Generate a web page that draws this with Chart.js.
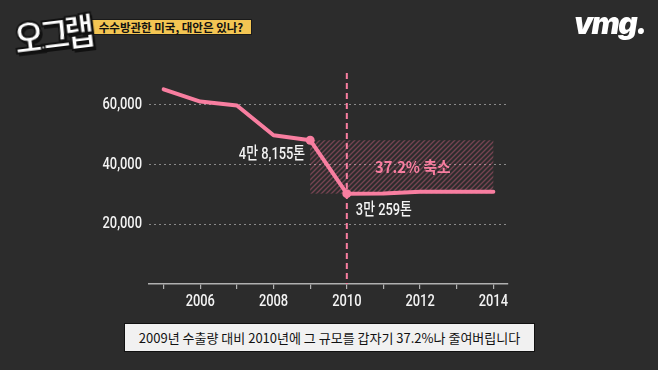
<!DOCTYPE html>
<html><head><meta charset="utf-8">
<script src="https://cdn.jsdelivr.net/npm/chart.js@4.4.1/dist/chart.umd.min.js"></script>
<style>
html,body{margin:0;padding:0;background:#2c2c2c;width:658px;height:370px;overflow:hidden;}
#wrap{position:relative;width:658px;height:370px;}
canvas{position:absolute;left:0;top:0;}
#logo{position:absolute;left:14px;top:11px;font-family:"Noto Sans CJK KR";font-weight:900;font-size:37px;color:#fff;-webkit-text-stroke:2px #111;letter-spacing:-6px;transform:rotate(-7deg) scaleX(0.9);transform-origin:left center;text-shadow:2px 3px 0 #111;z-index:3;}
#banner{position:absolute;left:90px;top:19px;width:160px;height:14px;background:#f3c553;border:1px solid #1a1a1a;font-family:"Noto Sans CJK KR";font-weight:700;font-size:11.5px;line-height:14px;color:#111;text-align:center;z-index:2;white-space:nowrap;}
#vmg{position:absolute;left:574px;top:5px;font-family:Inter,Roboto,sans-serif;font-weight:900;font-style:italic;font-size:30px;color:#fff;letter-spacing:-1.5px;}
#cap{position:absolute;left:124px;top:323px;width:409px;height:27px;background:#f1f1f1;border:1.5px solid #111;font-family:"Noto Sans CJK KR";font-size:13px;line-height:27px;color:#111;text-align:center;}
</style></head>
<body><div id="wrap">
<canvas id="c" width="658" height="370"></canvas>
<div id="logo">오그랩</div>
<div id="banner">수수방관한 미국, 대안은 있나?</div>
<div id="vmg">vmg.</div>
<div id="cap">2009년 수출량 대비 2010년에 그 규모를 갑자기 37.2%나 줄여버립니다</div>
</div>
<script>
const years = [2005,2006,2007,2008,2009,2010,2011,2012,2013,2014];
const exports_ = [65200,61100,59800,49800,48155,30259,30300,30900,30900,30900];
const yTicks = [20000,40000,60000];
const labelBefore = "4만 8,155톤";
const labelAfter = "3만 259톤";
const dropLabel = "37.2% 축소";
const markYearFrom = 2009, markYearTo = 2014, markYearLine = 2010;

const PINK = '#f87ea0';
const CFONT = '500 16.5px Roboto,"Noto Sans CJK KR",sans-serif';
const SX = 0.78;

function hatch(ctx){
  const p = document.createElement('canvas'); p.width = 5; p.height = 5;
  const g = p.getContext('2d');
  g.strokeStyle = 'rgba(248,110,150,0.36)'; g.lineWidth = 1.4;
  g.beginPath(); g.moveTo(0,5); g.lineTo(5,0); g.moveTo(-2.5,2.5); g.lineTo(2.5,-2.5); g.moveTo(2.5,7.5); g.lineTo(7.5,2.5); g.stroke();
  return ctx.createPattern(p,'repeat');
}
function cText(ctx, txt, x, y, align){
  ctx.save();
  ctx.translate(x, y); ctx.scale(SX, 1);
  ctx.textAlign = align; ctx.textBaseline = 'middle';
  ctx.fillText(txt, 0, 0);
  ctx.restore();
}

const overlay = {
  id:'overlay',
  beforeDatasetsDraw(chart){
    const {ctx, scales:{x,y}, chartArea} = chart;
    const i0 = years.indexOf(markYearFrom), i1 = years.indexOf(markYearLine);
    const x0 = x.getPixelForValue(markYearFrom), x1 = x.getPixelForValue(markYearTo);
    const yTop = y.getPixelForValue(exports_[i0]), yBot = y.getPixelForValue(exports_[i1]);
    ctx.save();
    ctx.fillStyle = hatch(ctx);
    ctx.fillRect(x0, yTop, x1-x0, yBot-yTop);
    const xl = x.getPixelForValue(markYearLine);
    ctx.strokeStyle = PINK; ctx.lineWidth = 2; ctx.setLineDash([6,4]);
    ctx.beginPath(); ctx.moveTo(xl, chartArea.top-2); ctx.lineTo(xl, chartArea.bottom); ctx.stroke();
    ctx.restore();
  },
  afterDatasetsDraw(chart){
    const {ctx, scales:{x,y}, chartArea} = chart;
    const i0 = years.indexOf(markYearFrom), i1 = years.indexOf(markYearLine);
    ctx.save();
    ctx.fillStyle = '#f4f4f4';
    ctx.font = CFONT;
    y.ticks.forEach(t => cText(ctx, t.value.toLocaleString('en-US'), chartArea.left - 7, y.getPixelForValue(t.value), 'right'));
    x.ticks.forEach(t => { if (t.value % 2 === 0) cText(ctx, String(t.value), x.getPixelForValue(t.value), chartArea.bottom + 18, 'center'); });
    cText(ctx, labelBefore, x.getPixelForValue(years[i0]) - 5, y.getPixelForValue(exports_[i0]) + 15, 'right');
    cText(ctx, labelAfter, x.getPixelForValue(years[i1]) + 9, y.getPixelForValue(exports_[i1]) + 17, 'left');
    ctx.fillStyle = PINK;
    ctx.font = 'bold 16px "Noto Sans CJK KR",sans-serif';
    ctx.textAlign = 'center'; ctx.textBaseline = 'middle';
    ctx.save(); ctx.translate(x.getPixelForValue(2011.8), y.getPixelForValue(39300)); ctx.scale(0.92,1);
    ctx.fillText(dropLabel, 0, 0); ctx.restore();
    ctx.restore();
  }
};

new Chart(document.getElementById('c'), {
  type:'line',
  data:{ datasets:[{
    data: years.map((yr,i)=>({x:yr, y:exports_[i]})),
    borderColor: PINK, backgroundColor: PINK, borderWidth: 4,
    pointRadius: years.map(yr => (yr===markYearFrom||yr===markYearLine)?4.5:0),
    pointBorderWidth:0, tension:0, borderJoinStyle:'round', borderCapStyle:'round'
  }]},
  options:{
    responsive:false, animation:false,
    layout:{padding:{top:75,right:150,left:0,bottom:0}},
    plugins:{legend:{display:false}, tooltip:{enabled:false}},
    scales:{
      x:{type:'linear', min:2004.6, max:2014.4,
        afterBuildTicks(s){ s.ticks = years.map(v=>({value:v})); },
        afterFit(s){ s.height = 86; },
        ticks:{color:'rgba(0,0,0,0)', font:{size:15}, padding:3, maxRotation:0, autoSkip:false,
          callback:v => (v%2===0 ? String(v) : '')},
        grid:{drawOnChartArea:false, drawTicks:true, tickLength:5, color:'#b0b0b0', lineWidth:1.2},
        border:{display:true, color:'#b0b0b0', width:1.5}
      },
      y:{min:0, max:70000,
        afterBuildTicks(s){ s.ticks = yTicks.map(v=>({value:v})); },
        afterFit(s){ s.width = 149; },
        ticks:{color:'rgba(0,0,0,0)', font:{size:15}, padding:7,
          callback:v => v.toLocaleString('en-US')},
        grid:{drawTicks:false, color:'#8a8a8a', lineWidth:1},
        border:{display:false, dash:[2,3]}
      }
    }
  },
  plugins:[overlay]
});
</script>
</body></html>
